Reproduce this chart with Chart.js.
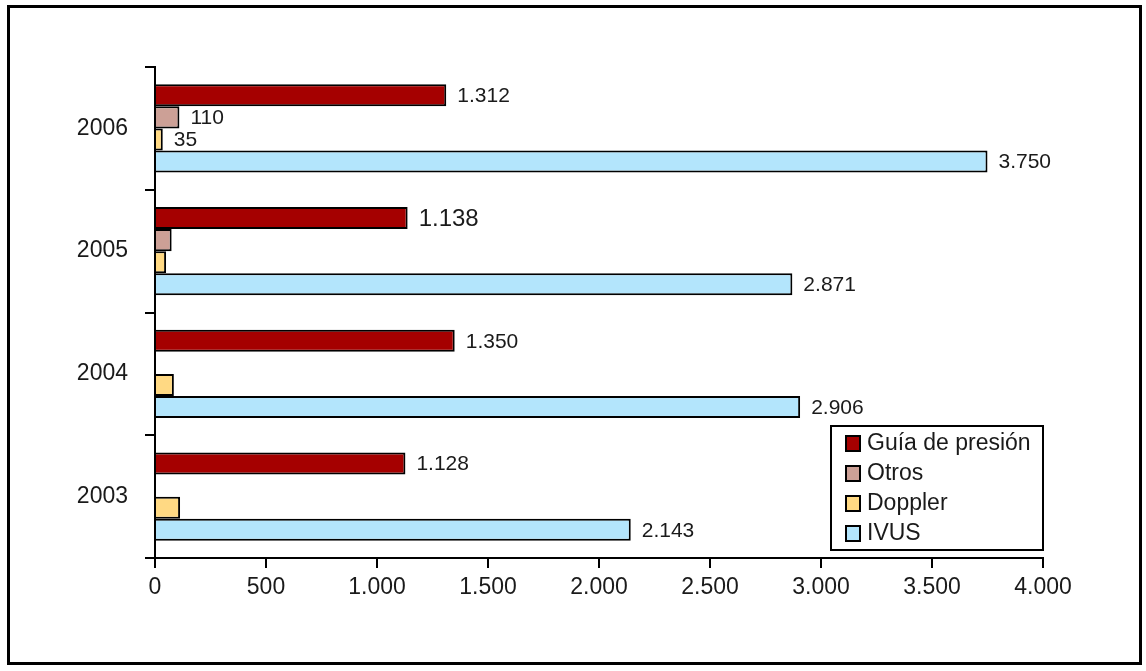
<!DOCTYPE html>
<html>
<head>
<meta charset="utf-8">
<script src="https://cdn.jsdelivr.net/npm/chart.js@4/dist/chart.umd.min.js"></script>
<style>
  body { margin: 0; background: #fff; }
  canvas { display: block; }
</style>
</head>
<body>
<canvas id="myChart" width="1146" height="671"></canvas>
<script>
// data
var years = ['2006', '2005', '2004', '2003'];
var seriesNames = ['Guía de presión', 'Otros', 'Doppler', 'IVUS'];
var guia = [1312, 1138, 1350, 1128];
var otros = [110, 75, null, null];
var doppler = [35, 50, 85, 113];
var ivus = [3750, 2871, 2906, 2143];
// value labels printed next to bars (null = none printed)
var guiaLabels = ['1.312', '1.138', '1.350', '1.128'];
var otrosLabels = ['110', null, null, null];
var dopplerLabels = ['35', null, null, null];
var ivusLabels = ['3.750', '2.871', '2.906', '2.143'];
var xTicks = [0, 500, 1000, 1500, 2000, 2500, 3000, 3500, 4000];

var colors = ['#a50000', '#cca096', '#ffd983', '#b3e5fc'];
var fontFamily = '"Liberation Sans", Arial, sans-serif';
var textColor = '#1a1a1a';

function fmt(v) {
    return String(v).replace(/\B(?=(\d{3})+(?!\d))/g, '.');
}

const valueLabels = {
    id: 'valueLabels',
    afterDatasetsDraw(chart) {
        const ctx = chart.ctx;
        const allLabels = [guiaLabels, otrosLabels, dopplerLabels, ivusLabels];
        ctx.save();
        ctx.fillStyle = textColor;
        ctx.textBaseline = 'middle';
        ctx.textAlign = 'left';
        chart.data.datasets.forEach((ds, di) => {
            const meta = chart.getDatasetMeta(di);
            meta.data.forEach((bar, i) => {
                const txt = allLabels[di][i];
                if (!txt) return;
                // the 2005 pressure-wire label is printed larger in the original
                const size = (di === 0 && i === 1) ? 24 : 21;
                ctx.font = size + 'px ' + fontFamily;
                ctx.fillText(txt, bar.x + 11, bar.y + 1);
            });
        });
        ctx.restore();
    }
};

const frameAndLegend = {
    id: 'frameAndLegend',
    afterDraw(chart) {
        const ctx = chart.ctx;
        ctx.save();
        ctx.strokeStyle = '#000';
        ctx.lineWidth = 3;
        ctx.strokeRect(8.5, 6.5, 1132, 657);

        // legend box
        ctx.lineWidth = 2;
        ctx.fillStyle = '#fff';
        ctx.fillRect(831, 426, 212, 124);
        ctx.strokeRect(831, 426, 212, 124);
        ctx.font = '23px ' + fontFamily;
        ctx.textBaseline = 'middle';
        ctx.textAlign = 'left';
        chart.data.datasets.forEach((ds, i) => {
            const y = 443 + i * 30;
            ctx.fillStyle = ds.backgroundColor;
            ctx.fillRect(846, y - 7, 14, 15);
            ctx.strokeStyle = '#000';
            ctx.lineWidth = 2;
            ctx.strokeRect(846, y - 7, 14, 15);
            ctx.fillStyle = textColor;
            ctx.fillText(ds.label, 867, y + 1);
        });
        ctx.restore();
    }
};

function makeDataset(name, values, color) {
    return {
        label: name,
        data: values,
        backgroundColor: color,
        borderColor: '#000',
        borderWidth: 2,
        borderSkipped: 'start',
        categoryPercentage: 0.72,
        barPercentage: 1.0
    };
}

const ctx = document.getElementById('myChart').getContext('2d');
new Chart(ctx, {
    type: 'bar',
    data: {
        labels: years,
        datasets: [
            makeDataset(seriesNames[0], guia, colors[0]),
            makeDataset(seriesNames[1], otros, colors[1]),
            makeDataset(seriesNames[2], doppler, colors[2]),
            makeDataset(seriesNames[3], ivus, colors[3])
        ]
    },
    options: {
        indexAxis: 'y',
        responsive: false,
        animation: false,
        layout: { padding: { left: 0, top: 67, right: 103, bottom: 0 } },
        plugins: {
            legend: { display: false },
            tooltip: { enabled: false }
        },
        scales: {
            x: {
                min: 0,
                max: 4000,
                afterFit: scale => { scale.height = 113; },
                afterBuildTicks: scale => { scale.ticks = xTicks.map(v => ({ value: v })); },
                ticks: {
                    color: textColor,
                    font: { family: fontFamily, size: 23 },
                    padding: 6,
                    maxRotation: 0,
                    callback: v => fmt(v)
                },
                grid: { drawOnChartArea: false, drawTicks: true, tickLength: 10, color: '#000', lineWidth: 2 },
                border: { color: '#000', width: 2 }
            },
            y: {
                afterFit: scale => { scale.width = 155; },
                ticks: {
                    color: textColor,
                    font: { family: fontFamily, size: 23 },
                    padding: 17
                },
                grid: { offset: true, drawOnChartArea: false, drawTicks: true, tickLength: 10, color: '#000', lineWidth: 2 },
                border: { color: '#000', width: 2 }
            }
        }
    },
    plugins: [valueLabels, frameAndLegend]
});
</script>
</body>
</html>
